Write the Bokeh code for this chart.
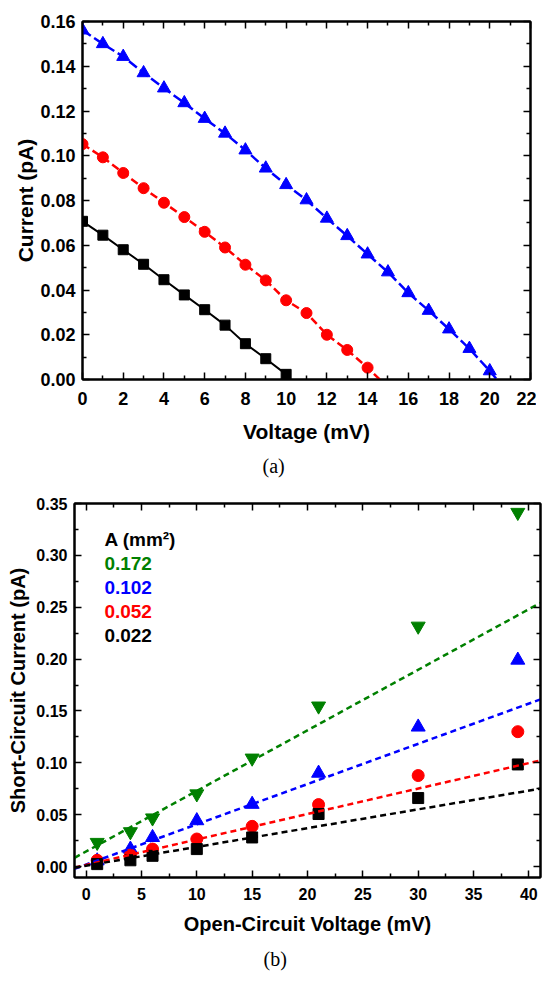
from bokeh.plotting import figure
from bokeh.layouts import column
from bokeh.models import Range1d, LinearAxis, FixedTicker, NumeralTickFormatter, Label, Title
from bokeh.embed import file_html
from bokeh.resources import INLINE

# ---------------- panel (a) data ----------------
va_black = [0, 1, 2, 3, 4, 5, 6, 7, 8, 9, 10]
ia_black = [0.0707, 0.0645, 0.0580, 0.0515, 0.0446, 0.0378, 0.0312, 0.0243, 0.0160, 0.0093, 0.0023]
va_red = [0, 1, 2, 3, 4, 5, 6, 7, 8, 9, 10, 11, 12, 13, 14]
ia_red = [0.1052, 0.0993, 0.0923, 0.0855, 0.0790, 0.0726, 0.0660, 0.0590, 0.0513, 0.0443,
          0.0354, 0.0297, 0.0200, 0.0132, 0.0053]
va_blue = [0, 1, 2, 3, 4, 5, 6, 7, 8, 9, 10, 11, 12, 13, 14, 15, 16, 17, 18, 19, 20]
ia_blue = [0.1561, 0.1500, 0.1443, 0.1370, 0.1302, 0.1236, 0.1166, 0.1100, 0.1025, 0.0944,
           0.0870, 0.0802, 0.0720, 0.0642, 0.0560, 0.0480, 0.0387, 0.0308, 0.0225, 0.0138, 0.0038]
voc_red = 14.6
voc_blue = 20.35
xa_ticks = [0, 2, 4, 6, 8, 10, 12, 14, 16, 18, 20, 22]
xa_minor = [1, 3, 5, 7, 9, 11, 13, 15, 17, 19, 21]
ya_ticks = [0.00, 0.02, 0.04, 0.06, 0.08, 0.10, 0.12, 0.14, 0.16]
ya_minor = [0.01, 0.03, 0.05, 0.07, 0.09, 0.11, 0.13, 0.15]

# ---------------- panel (b) data ----------------
vb = [1, 4, 6, 10, 15, 21, 30, 39]
isc_green = [0.0232, 0.0335, 0.0468, 0.0700, 0.1045, 0.1547, 0.2317, 0.3414]
isc_blue = [0.0055, 0.0168, 0.0280, 0.0442, 0.0600, 0.0900, 0.1345, 0.1990]
isc_red = [0.0060, 0.0110, 0.0168, 0.0265, 0.0387, 0.0597, 0.0877, 0.1300]
isc_black = [0.0023, 0.0060, 0.0103, 0.0168, 0.0280, 0.0506, 0.0660, 0.0984]
fit_intercept = [0.0145, 0.0019, 0.0015, 0.0008]   # green, blue, red, black
fit_slope = [0.00584, 0.00388, 0.002455, 0.00181]
areas = ["0.172", "0.102", "0.052", "0.022"]
xb_ticks = [0, 5, 10, 15, 20, 25, 30, 35, 40]
xb_minor = [2.5, 7.5, 12.5, 17.5, 22.5, 27.5, 32.5, 37.5]
yb_ticks = [0.00, 0.05, 0.10, 0.15, 0.20, 0.25, 0.30, 0.35]
yb_minor = [0.025, 0.075, 0.125, 0.175, 0.225, 0.275, 0.325]

GREEN = "#008000"
BLUE = "#0000ff"
RED = "#ff0000"
BLACK = "#000000"
SANS = "Liberation Sans"


def style_axis(ax, ticks, minor, fs, standoff, show_labels=True, fmt=None):
    ax.ticker = FixedTicker(ticks=ticks, minor_ticks=minor)
    if fmt is not None:
        ax.formatter = NumeralTickFormatter(format=fmt)
    ax.axis_line_width = 2
    ax.axis_line_color = "black"
    ax.major_tick_in = 7
    ax.major_tick_out = 0
    ax.minor_tick_in = 4
    ax.minor_tick_out = 0
    ax.major_tick_line_width = 1.5
    ax.minor_tick_line_width = 1.5
    ax.major_tick_line_color = "black"
    ax.minor_tick_line_color = "black"
    if show_labels:
        ax.major_label_text_font = SANS
        ax.major_label_text_font_style = "bold"
        ax.major_label_text_font_size = fs
        ax.major_label_text_color = "black"
        ax.major_label_standoff = standoff
        ax.axis_label_text_font = SANS
        ax.axis_label_text_font_style = "bold"
        ax.axis_label_text_color = "black"
    else:
        ax.major_label_text_font_size = "1px"
        ax.major_label_text_color = None
        ax.major_label_text_alpha = 0
        ax.major_label_standoff = 0
        ax.axis_label = None


# ================= panel (a) =================
p1 = figure(frame_width=448, frame_height=358,
            x_range=Range1d(0, 22), y_range=Range1d(0, 0.16),
            output_backend="svg", toolbar_location=None,
            min_border_left=74, min_border_top=21, min_border_right=6, min_border_bottom=116)
p1.margin = (0, 0, 0, 8)
p1.xgrid.visible = False
p1.ygrid.visible = False
p1.outline_line_color = "black"
p1.outline_line_width = 2
p1.background_fill_color = "white"
p1.border_fill_color = "white"

style_axis(p1.xaxis[0], xa_ticks, xa_minor, "18px", 12)
style_axis(p1.yaxis[0], ya_ticks, ya_minor, "18px", 7, fmt="0.00")
p1.xaxis[0].axis_label = "Voltage (mV)"
p1.xaxis[0].axis_label_text_font_size = "21px"
p1.xaxis[0].axis_label_standoff = 12
p1.yaxis[0].axis_label = "Current (pA)"
p1.yaxis[0].axis_label_text_font_size = "21px"
p1.yaxis[0].axis_label_standoff = 0

top1 = LinearAxis()
style_axis(top1, xa_ticks, xa_minor, "1px", 0, show_labels=False)
p1.add_layout(top1, "above")
right1 = LinearAxis()
style_axis(right1, ya_ticks, ya_minor, "1px", 0, show_labels=False)
p1.add_layout(right1, "right")

p1.line(va_black, ia_black, line_color=BLACK, line_width=2)
p1.line(va_red + [voc_red], ia_red + [0.0], line_color=RED, line_width=2.5, line_dash="8 4")
p1.line(va_blue + [voc_blue], ia_blue + [0.0], line_color=BLUE, line_width=2.5, line_dash="10 4")
p1.scatter(va_black, ia_black, marker="square", size=10, fill_color=BLACK, line_color=BLACK)
p1.scatter(va_red, ia_red, marker="circle", size=11, fill_color=RED, line_color=RED)
p1.scatter(va_blue, ia_blue, marker="triangle", size=13, fill_color=BLUE, line_color=BLUE)

t1 = Title(text="(a)", align="left", offset=180, text_font="Liberation Serif",
           text_font_size="20px", text_font_style="normal", text_color="black",
           vertical_align="middle", standoff=17)
p1.add_layout(t1, "below")

# ================= panel (b) =================
xb0, xb1 = -1.05, 41.05
p2 = figure(frame_width=466, frame_height=374,
            x_range=Range1d(xb0, xb1), y_range=Range1d(-0.0106, 0.35),
            output_backend="svg", toolbar_location=None,
            min_border_left=74, min_border_top=8, min_border_right=6, min_border_bottom=20)
p2.xgrid.visible = False
p2.ygrid.visible = False
p2.outline_line_color = "black"
p2.outline_line_width = 2
p2.background_fill_color = "white"
p2.border_fill_color = "white"

style_axis(p2.xaxis[0], xb_ticks, xb_minor, "16px", 10)
style_axis(p2.yaxis[0], yb_ticks, yb_minor, "16px", 7, fmt="0.00")
p2.xaxis[0].axis_label = "Open-Circuit Voltage (mV)"
p2.xaxis[0].axis_label_text_font_size = "20px"
p2.xaxis[0].axis_label_standoff = 10
p2.yaxis[0].axis_label = "Short-Circuit Current (pA)"
p2.yaxis[0].axis_label_text_font_size = "20px"
p2.yaxis[0].axis_label_standoff = 4

top2 = LinearAxis()
style_axis(top2, xb_ticks, xb_minor, "1px", 0, show_labels=False)
p2.add_layout(top2, "above")
right2 = LinearAxis()
style_axis(right2, yb_ticks, yb_minor, "1px", 0, show_labels=False)
p2.add_layout(right2, "right")

series_b = [(isc_green, GREEN, "inverted_triangle", 14),
            (isc_blue, BLUE, "triangle", 14),
            (isc_red, RED, "circle", 12),
            (isc_black, BLACK, "square", 11)]
for ys, col, mk, sz in series_b:
    p2.scatter(vb, ys, marker=mk, size=sz, fill_color=col, line_color=col)
for (ys, col, mk, sz), b, m in zip(series_b, fit_intercept, fit_slope):
    p2.line([xb0, xb1], [b + m * xb0, b + m * xb1], line_color=col, line_width=2.5, line_dash="6 4")

# legend-like text block
p2.add_layout(Label(x=1.65, y=0.3154, text="A (mm²)", text_font=SANS, text_font_style="bold",
                    text_font_size="19px", text_color=BLACK, text_baseline="middle"))
legend_cols = [GREEN, BLUE, RED, BLACK]
for i, (a, c) in enumerate(zip(areas, legend_cols)):
    p2.add_layout(Label(x=1.65, y=0.2923 - i * 0.0231, text=a, text_font=SANS, text_font_style="bold",
                        text_font_size="19px", text_color=c, text_baseline="middle"))

t2 = Title(text="(b)", align="left", offset=189, text_font="Liberation Serif",
           text_font_size="20px", text_font_style="normal", text_color="black",
           vertical_align="middle", standoff=18)
p2.add_layout(t2, "below")

layout = column(p1, p2, spacing=0)
open("out.html", "w").write(file_html(layout, INLINE))
